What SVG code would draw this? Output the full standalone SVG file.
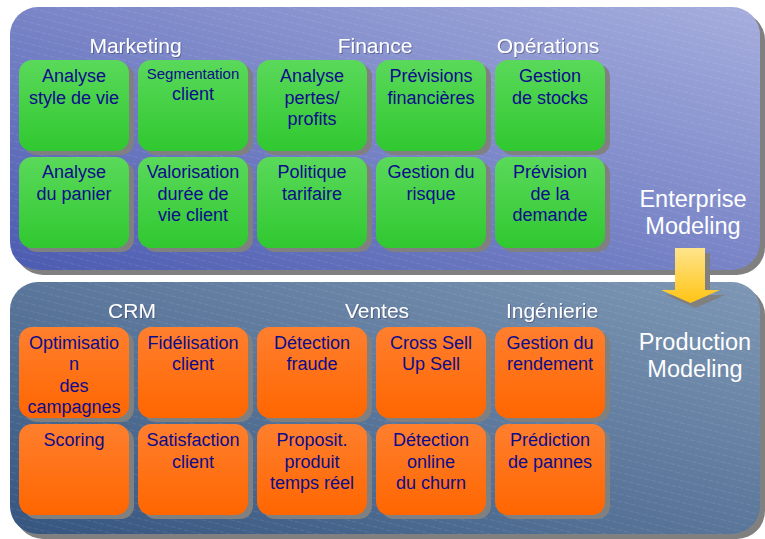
<svg xmlns="http://www.w3.org/2000/svg" width="765" height="539" viewBox="0 0 765 539">
  <defs>
    <linearGradient id="gTop" x1="1" y1="0" x2="0" y2="1">
      <stop offset="0" stop-color="#a6aedd"/>
      <stop offset="1" stop-color="#4b5bb0"/>
    </linearGradient>
    <linearGradient id="gBottom" x1="1" y1="0" x2="0" y2="1">
      <stop offset="0" stop-color="#7e97b5"/>
      <stop offset="1" stop-color="#36557f"/>
    </linearGradient>
    <linearGradient id="gGreen" x1="0" y1="0" x2="0" y2="1">
      <stop offset="0" stop-color="#5ad95a"/>
      <stop offset="1" stop-color="#30c830"/>
    </linearGradient>
    <linearGradient id="gOrange" x1="0" y1="0" x2="0" y2="1">
      <stop offset="0" stop-color="#ff7f2e"/>
      <stop offset="1" stop-color="#ff6600"/>
    </linearGradient>
    <linearGradient id="gArrow" x1="0" y1="0" x2="0" y2="1">
      <stop offset="0" stop-color="#ffe48c"/>
      <stop offset="1" stop-color="#ffc414"/>
    </linearGradient>
    <pattern id="hatch" width="7" height="7" patternUnits="userSpaceOnUse" patternTransform="rotate(14)">
      <line x1="0" y1="0.5" x2="7" y2="0.5" stroke="#ffffff" stroke-opacity="0.13" stroke-width="0.7" stroke-dasharray="4 2"/>
    </pattern>
    <filter id="txtShadow" x="-10%" y="-20%" width="120%" height="150%">
      <feDropShadow dx="1" dy="1" stdDeviation="0.4" flood-color="#30305a" flood-opacity="0.45"/>
    </filter>
  </defs>
  <style>
    text { font-family: "Liberation Sans", Arial, sans-serif; text-anchor: middle; }
    .hdr { font-size: 21px; fill: #ffffff; filter: url(#txtShadow); }
    .big { font-size: 23.5px; fill: #ffffff; }
    .lbl { font-size: 18px; fill: #0c0c8c; }
    .sm { font-size: 15px; }
    .shadow { fill: #808080; }
    .green { fill: url(#gGreen); }
    .orange { fill: url(#gOrange); }
  </style>

  <!-- layer panels -->
  <g id="panel-enterprise">
    <rect class="shadow" x="15" y="12" width="750" height="263" rx="28"/>
    <rect x="10" y="7" width="750" height="263" rx="28" fill="url(#gTop)"/>
    <rect x="10" y="7" width="750" height="263" rx="28" fill="url(#hatch)"/>
    <text class="hdr" x="135.5" y="53">Marketing</text>
    <text class="hdr" x="375" y="53">Finance</text>
    <text class="hdr" x="548" y="53">Opérations</text>
    <text class="big" x="693" y="207">Enterprise</text>
    <text class="big" x="693" y="234">Modeling</text>
  </g>
  <g id="panel-production">
    <rect class="shadow" x="15" y="287" width="750" height="252" rx="28"/>
    <rect x="10" y="282" width="750" height="252" rx="28" fill="url(#gBottom)"/>
    <rect x="10" y="282" width="750" height="252" rx="28" fill="url(#hatch)"/>
    <text class="hdr" x="132" y="318">CRM</text>
    <text class="hdr" x="377" y="318">Ventes</text>
    <text class="hdr" x="552" y="318">Ingénierie</text>
    <text class="big" x="695" y="350">Production</text>
    <text class="big" x="695" y="377">Modeling</text>
  </g>

  <!-- enterprise modeling tiles -->
  <g id="analyse-style-de-vie">
    <rect class="shadow" x="24" y="64" width="110" height="91" rx="13"/>
    <rect class="green" x="19" y="60" width="110" height="91" rx="13"/>
    <text class="lbl" x="74" y="82">Analyse<tspan x="74" y="104">style de vie</tspan></text>
  </g>
  <g id="segmentation-client">
    <rect class="shadow" x="143" y="64" width="110" height="91" rx="13"/>
    <rect class="green" x="138" y="60" width="110" height="91" rx="13"/>
    <text class="lbl sm" x="193" y="79">Segmentation</text>
    <text class="lbl" x="193" y="100">client</text>
  </g>
  <g id="analyse-pertes-profits">
    <rect class="shadow" x="262" y="64" width="110" height="91" rx="13"/>
    <rect class="green" x="257" y="60" width="110" height="91" rx="13"/>
    <text class="lbl" x="312" y="82">Analyse<tspan x="312" y="104">pertes/</tspan><tspan x="312" y="125">profits</tspan></text>
  </g>
  <g id="previsions-financieres">
    <rect class="shadow" x="381" y="64" width="110" height="91" rx="13"/>
    <rect class="green" x="376" y="60" width="110" height="91" rx="13"/>
    <text class="lbl" x="431" y="82">Prévisions<tspan x="431" y="104">financières</tspan></text>
  </g>
  <g id="gestion-de-stocks">
    <rect class="shadow" x="500" y="64" width="110" height="91" rx="13"/>
    <rect class="green" x="495" y="60" width="110" height="91" rx="13"/>
    <text class="lbl" x="550" y="82">Gestion<tspan x="550" y="104">de stocks</tspan></text>
  </g>

  <g id="analyse-du-panier">
    <rect class="shadow" x="24" y="161" width="110" height="91" rx="13"/>
    <rect class="green" x="19" y="157" width="110" height="91" rx="13"/>
    <text class="lbl" x="74" y="178">Analyse<tspan x="74" y="200">du panier</tspan></text>
  </g>
  <g id="valorisation-duree-de-vie">
    <rect class="shadow" x="143" y="161" width="110" height="91" rx="13"/>
    <rect class="green" x="138" y="157" width="110" height="91" rx="13"/>
    <text class="lbl" x="193" y="178">Valorisation<tspan x="193" y="200">durée de</tspan><tspan x="193" y="221">vie client</tspan></text>
  </g>
  <g id="politique-tarifaire">
    <rect class="shadow" x="262" y="161" width="110" height="91" rx="13"/>
    <rect class="green" x="257" y="157" width="110" height="91" rx="13"/>
    <text class="lbl" x="312" y="178">Politique<tspan x="312" y="200">tarifaire</tspan></text>
  </g>
  <g id="gestion-du-risque">
    <rect class="shadow" x="381" y="161" width="110" height="91" rx="13"/>
    <rect class="green" x="376" y="157" width="110" height="91" rx="13"/>
    <text class="lbl" x="431" y="178">Gestion du<tspan x="431" y="200">risque</tspan></text>
  </g>
  <g id="prevision-de-la-demande">
    <rect class="shadow" x="500" y="161" width="110" height="91" rx="13"/>
    <rect class="green" x="495" y="157" width="110" height="91" rx="13"/>
    <text class="lbl" x="550" y="178">Prévision<tspan x="550" y="200">de la</tspan><tspan x="550" y="221">demande</tspan></text>
  </g>

  <!-- production modeling tiles -->
  <g id="optimisation-des-campagnes">
    <rect class="shadow" x="24" y="331" width="110" height="91" rx="13"/>
    <rect class="orange" x="19" y="327" width="110" height="91" rx="13"/>
    <text class="lbl" x="74" y="349">Optimisatio<tspan x="74" y="370">n</tspan><tspan x="74" y="392">des</tspan><tspan x="74" y="413">campagnes</tspan></text>
  </g>
  <g id="fidelisation-client">
    <rect class="shadow" x="143" y="331" width="110" height="91" rx="13"/>
    <rect class="orange" x="138" y="327" width="110" height="91" rx="13"/>
    <text class="lbl" x="193" y="349">Fidélisation<tspan x="193" y="370">client</tspan></text>
  </g>
  <g id="detection-fraude">
    <rect class="shadow" x="262" y="331" width="110" height="91" rx="13"/>
    <rect class="orange" x="257" y="327" width="110" height="91" rx="13"/>
    <text class="lbl" x="312" y="349">Détection<tspan x="312" y="370">fraude</tspan></text>
  </g>
  <g id="cross-sell-up-sell">
    <rect class="shadow" x="381" y="331" width="110" height="91" rx="13"/>
    <rect class="orange" x="376" y="327" width="110" height="91" rx="13"/>
    <text class="lbl" x="431" y="349">Cross Sell<tspan x="431" y="370">Up Sell</tspan></text>
  </g>
  <g id="gestion-du-rendement">
    <rect class="shadow" x="500" y="331" width="110" height="91" rx="13"/>
    <rect class="orange" x="495" y="327" width="110" height="91" rx="13"/>
    <text class="lbl" x="550" y="349">Gestion du<tspan x="550" y="370">rendement</tspan></text>
  </g>

  <g id="scoring">
    <rect class="shadow" x="24" y="428" width="110" height="91" rx="13"/>
    <rect class="orange" x="19" y="424" width="110" height="91" rx="13"/>
    <text class="lbl" x="74" y="446">Scoring</text>
  </g>
  <g id="satisfaction-client">
    <rect class="shadow" x="143" y="428" width="110" height="91" rx="13"/>
    <rect class="orange" x="138" y="424" width="110" height="91" rx="13"/>
    <text class="lbl" x="193" y="446">Satisfaction<tspan x="193" y="468">client</tspan></text>
  </g>
  <g id="proposit-produit-temps-reel">
    <rect class="shadow" x="262" y="428" width="110" height="91" rx="13"/>
    <rect class="orange" x="257" y="424" width="110" height="91" rx="13"/>
    <text class="lbl" x="312" y="446">Proposit.<tspan x="312" y="468">produit</tspan><tspan x="312" y="489">temps réel</tspan></text>
  </g>
  <g id="detection-online-du-churn">
    <rect class="shadow" x="381" y="428" width="110" height="91" rx="13"/>
    <rect class="orange" x="376" y="424" width="110" height="91" rx="13"/>
    <text class="lbl" x="431" y="446">Détection<tspan x="431" y="468">online</tspan><tspan x="431" y="489">du churn</tspan></text>
  </g>
  <g id="prediction-de-pannes">
    <rect class="shadow" x="500" y="428" width="110" height="91" rx="13"/>
    <rect class="orange" x="495" y="424" width="110" height="91" rx="13"/>
    <text class="lbl" x="550" y="446">Prédiction<tspan x="550" y="468">de pannes</tspan></text>
  </g>

  <!-- block arrow from enterprise to production layer -->
  <g id="connectors">
    <polygon class="shadow" points="680,253 710,253 710,295 725,295 695.5,308 666,295 680,295"/>
    <polygon points="675,248 705,248 705,290 720,290 690.5,303 661,290 675,290" fill="url(#gArrow)"/>
  </g>
</svg>
